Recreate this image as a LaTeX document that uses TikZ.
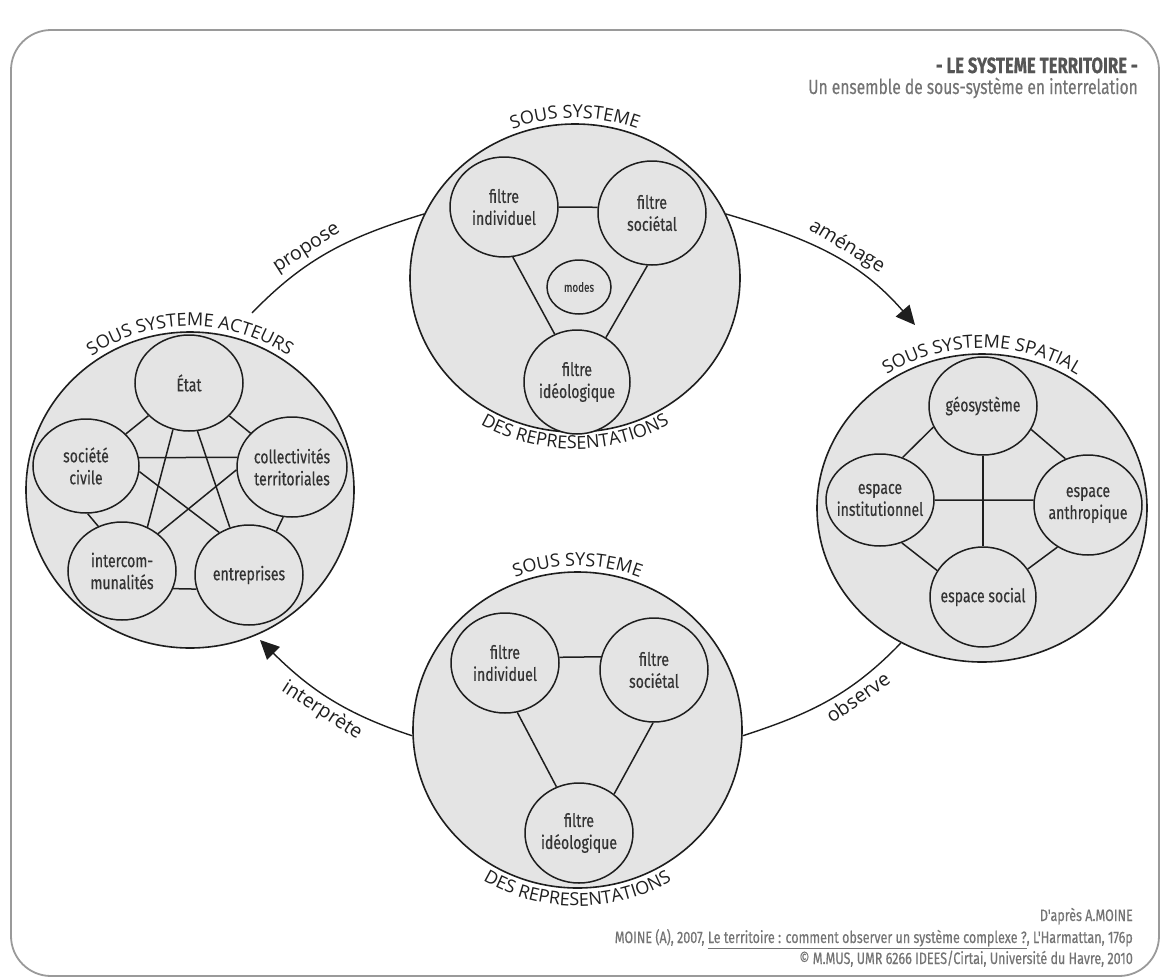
\documentclass[tikz,border=0pt]{standalone}
\usepackage{fontspec}
\setmainfont{Open Sans}
\newfontfamily\condfont[FakeStretch=0.76, FakeBold=0.4]{Fira Sans}
\newfontfamily\humfont{Open Sans}
\usetikzlibrary{shapes.geometric,arrows.meta,decorations.text}
\definecolor{fillc}{HTML}{E4E4E4}
\definecolor{linec}{HTML}{1E1E1E}
\definecolor{textc}{HTML}{333333}
\definecolor{framec}{HTML}{9A9A9A}
\definecolor{titlec}{HTML}{555555}
\definecolor{subc}{HTML}{747474}
\definecolor{arcc}{HTML}{1F1F1F}
\newcommand\myarcfont{\humfont\fontsize{18}{21}\selectfont\color{arcc}}
\tikzset{
  outer/.style={ellipse, draw=linec, line width=1.6pt, fill=fillc, inner sep=0pt},
  inner/.style={ellipse, draw=linec, line width=1.5pt, fill=fillc, inner sep=-9pt, align=center,
    font=\condfont\fontsize{18.5}{22}\selectfont, text=textc},
  link/.style={draw=linec, line width=1.5pt},
  rel/.style={draw=linec, line width=1.4pt},
  rellab/.style={font=\humfont\fontsize{19.5}{22}\selectfont, text=arcc, sloped},
  bigtip/.style={-{Triangle[length=19pt,width=18pt]}},
  credit/.style={font=\condfont\fontsize{16.5}{18}\selectfont, text=subc, anchor=base east, inner sep=0pt},
}
\begin{document}
\begin{tikzpicture}[x=1pt,y=1pt]
\useasboundingbox (0,0) rectangle (1163,-978);
\fill[white] (0,0) rectangle (1163,-978);
\draw[framec, line width=1.8pt, rounded corners=40pt] (11,-30) rectangle (1159,-976);

% title
\node[font=\condfont\bfseries\fontsize{22}{24}\selectfont, text=titlec, anchor=base east, inner sep=0pt] (title) at (1138,-73) {- LE SYSTEME TERRITOIRE -};
\node[font=\condfont\fontsize{20.5}{22}\selectfont, text=subc, anchor=base east, inner sep=0pt] (subtitle) at (1138,-94) {Un ensemble de sous-système en interrelation};

% credits
\node[credit] (cr1) at (1133,-921) {D'après A.MOINE};
\node[credit] (cr2) at (1133,-943) {MOINE (A), 2007, \underline{Le territoire : comment observer un système complexe ?}, L'Harmattan, 176p};
\node[credit] (cr3) at (1133,-964) {© M.MUS, UMR 6266 IDEES/Cirtai, Université du Havre, 2010};

% outer systems
\node[outer, minimum width=328pt, minimum height=316pt] (act) at (190,-490) {};
\node[outer, minimum width=330pt, minimum height=308pt] (rep1) at (575,-278) {};
\node[outer, minimum width=329pt, minimum height=316pt] (rep2) at (577.5,-730) {};
\node[outer, minimum width=330pt, minimum height=308pt] (spatial) at (982,-508) {};

% texts along the outer circles
\path[decorate, decoration={text along path, text align=center, text={|\myarcfont|SOUS SYSTEME}}]
  ([shift={(115:171 and 160)}]rep1.center) arc[start angle=115, end angle=65, x radius=171, y radius=160];
\path[decorate, decoration={text along path, text align=center, text={|\myarcfont|DES REPRESENTATIONS}}]
  ([shift={(225:182 and 171)}]rep1.center) arc[start angle=225, end angle=315, x radius=182, y radius=171];
\path[decorate, decoration={text along path, text align=center, text={|\myarcfont|SOUS SYSTEME}}]
  ([shift={(115:171 and 164)}]rep2.center) arc[start angle=115, end angle=65, x radius=171, y radius=164];
\path[decorate, decoration={text along path, text align=center, text={|\myarcfont|DES REPRESENTATIONS}}]
  ([shift={(225:182 and 176)}]rep2.center) arc[start angle=225, end angle=315, x radius=182, y radius=176];
\path[decorate, decoration={text along path, text align=center, text={|\myarcfont|SOUS SYSTEME ACTEURS}}]
  ([shift={(145:170 and 164)}]act.center) arc[start angle=145, end angle=35, x radius=170, y radius=164];
\path[decorate, decoration={text along path, text align=center, text={|\myarcfont|SOUS SYSTEME SPATIAL}}]
  ([shift={(145:171 and 160)}]spatial.center) arc[start angle=145, end angle=35, x radius=171, y radius=160];

% representations (top)
\node[inner, minimum width=108pt, minimum height=100pt] (ind1) at (504,-207) {filtre\\individuel};
\node[inner, minimum width=108pt, minimum height=104pt] (soc1) at (652,-213) {filtre\\sociétal};
\node[inner, minimum width=64pt, minimum height=54pt, font=\condfont\fontsize{13}{15}\selectfont] (modes) at (579,-287) {modes};
\node[inner, minimum width=106pt, minimum height=104pt] (ideo1) at (577,-382) {filtre\\idéologique};
\draw[link] (ind1.east) -- (soc1.174);
\draw[link] (ind1.-80) -- (ideo1.115);
\draw[link] (soc1.-95) -- (ideo1.57);

% representations (bottom)
\node[inner, minimum width=108pt, minimum height=100pt] (ind2) at (505,-663) {filtre\\individuel};
\node[inner, minimum width=108pt, minimum height=104pt] (soc2) at (654,-670) {filtre\\sociétal};
\node[inner, minimum width=108pt, minimum height=100pt] (ideo2) at (579,-833) {filtre\\idéologique};
\draw[link] (ind2.6) -- (soc2.166);
\draw[link] (ind2.-76) -- (ideo2.116);
\draw[link] (soc2.-91) -- (ideo2.48);

% acteurs
\node[inner, minimum width=108pt, minimum height=96pt] (etat) at (189,-383) {État};
\node[inner, minimum width=106pt, minimum height=94pt] (civ) at (86,-466) {société\\civile};
\node[inner, minimum width=110pt, minimum height=100pt] (coll) at (292,-467) {collectivités\\territoriales};
\node[inner, minimum width=108pt, minimum height=98pt] (inter) at (122,-571) {intercom-\\munalités};
\node[inner, minimum width=108pt, minimum height=100pt] (entr) at (249,-575) {entreprises};
\draw[link] (etat) -- (civ);
\draw[link] (etat) -- (coll);
\draw[link] (civ.-88) -- (inter.118);
\draw[link] (coll.-100) -- (entr.58);
\draw[link] (inter.-19) -- (entr.195);
\draw[link] (civ.9) -- (coll.170);
\draw[link] (etat.-109) -- (inter.60);
\draw[link] (etat.-80) -- (entr.112);
\draw[link] (civ.-6) -- (entr.125);
\draw[link] (coll.183) -- (inter.46);

% spatial
\node[inner, minimum width=108pt, minimum height=98pt] (geo) at (983,-406) {géosystème};
\node[inner, minimum width=108pt, minimum height=92pt] (inst) at (880,-500) {espace\\institutionnel};
\node[inner, minimum width=108pt, minimum height=100pt] (anth) at (1088,-505) {espace\\anthropique};
\node[inner, minimum width=106pt, minimum height=100pt] (social) at (983,-597) {espace social};
\draw[link] (geo.203) -- (inst.62);
\draw[link] (geo.-26) -- (anth.116);
\draw[link] (inst.-63) -- (social.150);
\draw[link] (anth.234) -- (social.32);
\draw[link] (geo.south) -- (social.north);
\draw[link] (inst.east) -- (anth.175);

% relations between systems
\coordinate (propstart) at (252,-313);
\coordinate (amtip) at (915,-325);
\coordinate (intip) at (260,-640);
\draw[rel] (propstart) to[out=46,in=197] node[rellab, pos=0.4, above=1pt] (lprop) {propose} (rep1.157);
\draw[rel, bigtip] (rep1.23) to[out=-16.5,in=130.8] node[rellab, pos=0.55, above=1pt] (lamen) {aménage} (amtip);
\draw[rel] (spatial.-121) to[out=226,in=18] node[rellab, pos=0.35, below=1pt] (lobs) {observe} (rep2.-2.4);
\draw[rel, bigtip] (rep2.182.4) to[out=162,in=-44.7] node[rellab, pos=0.5, below=1pt] (linter) {interprète} (intip);
\end{tikzpicture}
\end{document}
